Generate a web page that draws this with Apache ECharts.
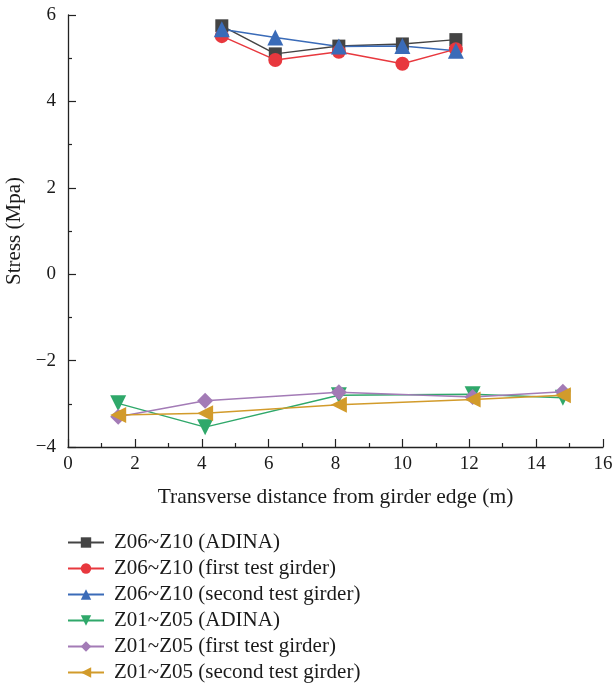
<!DOCTYPE html>
<html>
<head>
<meta charset="utf-8">
<script src="https://cdn.jsdelivr.net/npm/echarts@6/dist/echarts.min.js"></script>
<style>
  html, body { margin: 0; padding: 0; background: #fff; }
  #chart { width: 613px; height: 684px; }
</style>
</head>
<body>
<div id="chart"></div>
<script>
var chart = echarts.init(document.getElementById('chart'));

// transverse positions (m)
const xTop = [4.6, 6.2, 8.1, 10.0, 11.6];
const xBottom = [1.5, 4.1, 8.1, 12.1, 14.8];

// stresses (MPa)
const z06Adina = [5.75, 5.1, 5.28, 5.33, 5.43];
const z06First = [5.51, 4.96, 5.15, 4.87, 5.21];
const z06Second = [5.67, 5.48, 5.27, 5.28, 5.17];
const z01Adina = [-2.99, -3.54, -2.8, -2.78, -2.86];
const z01First = [-3.3, -2.93, -2.73, -2.84, -2.72];
const z01Second = [-3.26, -3.22, -3.02, -2.9, -2.8];

const names = [
  'Z06~Z10 (ADINA)',
  'Z06~Z10 (first test girder)',
  'Z06~Z10 (second test girder)',
  'Z01~Z05 (ADINA)',
  'Z01~Z05 (first test girder)',
  'Z01~Z05 (second test girder)'
];

function pairs(xs, ys) {
  return xs.map(function (x, i) { return [x, ys[i]]; });
}

function mkSeries(name, xs, ys, color, symbol, size, rotate) {
  return {
    name: name,
    type: 'line',
    data: pairs(xs, ys),
    symbol: symbol,
    symbolSize: size,
    symbolRotate: rotate || 0,
    showAllSymbol: true,
    lineStyle: { color: color, width: 1.5 },
    itemStyle: { color: color },
    emphasis: { disabled: true },
    animation: false
  };
}

const font = 'Liberation Serif';
const ink = '#1a1a1a';

var option = {
  backgroundColor: '#fff',
  grid: { left: 68, right: 10, top: 15, bottom: 237, outerBoundsMode: 'none', containLabel: false },
  legend: {
    orient: 'vertical',
    left: 67,
    top: 532,
    padding: 0,
    itemWidth: 36,
    itemHeight: 13,
    itemGap: 5,
    symbolRotate: 'inherit',
    textStyle: { fontFamily: font, fontSize: 21, color: ink, padding: [0, 0, 0, 5] },
    data: names
  },
  xAxis: {
    type: 'value',
    min: 0,
    max: 16,
    interval: 2,
    name: 'Transverse distance from girder edge (m)',
    nameLocation: 'middle',
    nameGap: 39,
    nameTextStyle: { fontFamily: font, fontSize: 21.5, color: ink },
    axisLine: { onZero: false, lineStyle: { color: '#222', width: 1.3 } },
    axisTick: { inside: true, length: 8, lineStyle: { color: '#222', width: 1.2 } },
    minorTick: { show: true, splitNumber: 2, length: 4, lineStyle: { color: '#222', width: 1.2 } },
    axisLabel: { fontFamily: font, fontSize: 19, color: ink, margin: 8 },
    splitLine: { show: false }
  },
  yAxis: {
    type: 'value',
    min: -4,
    max: 6,
    interval: 2,
    name: 'Stress (Mpa)',
    nameLocation: 'middle',
    nameGap: 40,
    nameRotate: 90,
    nameTextStyle: { fontFamily: font, fontSize: 21, color: ink },
    axisLine: { show: true, onZero: false, lineStyle: { color: '#222', width: 1.3 } },
    axisTick: { show: true, inside: true, length: 8, lineStyle: { color: '#222', width: 1.2 } },
    minorTick: { show: true, splitNumber: 2, length: 4, lineStyle: { color: '#222', width: 1.2 } },
    axisLabel: {
      fontFamily: font, fontSize: 19, color: ink, margin: 12,
      formatter: function (v) { return v < 0 ? '\u2212' + Math.abs(v) : String(v); }
    },
    splitLine: { show: false }
  },
  series: [
    mkSeries(names[0], xTop, z06Adina, '#444444', 'rect', 13),
    mkSeries(names[1], xTop, z06First, '#e8383e', 'circle', 14),
    mkSeries(names[2], xTop, z06Second, '#3a6bb8', 'triangle', 16),
    mkSeries(names[3], xBottom, z01Adina, '#2fa86a', 'triangle', 16, 180),
    mkSeries(names[4], xBottom, z01First, '#a37bb6', 'diamond', 16),
    mkSeries(names[5], xBottom, z01Second, '#d29b2b', 'triangle', 16, 90)
  ]
};

option && chart.setOption(option);
</script>
</body>
</html>
